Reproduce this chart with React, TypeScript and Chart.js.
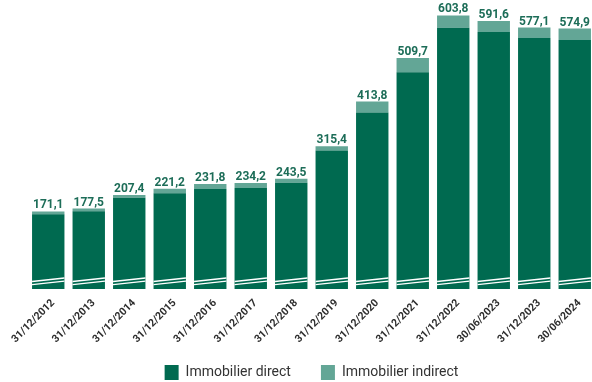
import React, { useEffect, useRef } from "react";
import { Chart, registerables } from "chart.js";

Chart.register(...registerables);

const categories = [
  "31/12/2012", "31/12/2013", "31/12/2014", "31/12/2015", "31/12/2016",
  "31/12/2017", "31/12/2018", "31/12/2019", "31/12/2020", "31/12/2021",
  "31/12/2022", "30/06/2023", "31/12/2023", "30/06/2024",
];
const directValues = [165.1, 171.5, 201.4, 211.2, 220.8, 223.2, 234.5, 305.9, 389.8, 478.7, 576.8, 567.6, 554.1, 549.9];
const indirectValues = [6.0, 6.0, 6.0, 10.0, 11.0, 11.0, 9.0, 9.5, 24.0, 31.0, 27.0, 24.0, 23.0, 25.0];
const totalLabels = ["171,1", "177,5", "207,4", "221,2", "231,8", "234,2", "243,5", "315,4", "413,8", "509,7", "603,8", "591,6", "577,1", "574,9"];
const seriesNames = ["Immobilier direct", "Immobilier indirect"];

const DARK = "#006a50";
const LIGHT = "#63a696";
const FONT = "Roboto, 'DejaVu Sans Condensed', sans-serif";

const overlayPlugin = {
  id: "overlay",
  afterLayout(chart: any) {
    // let the rotated tick labels draw below the axis box (no clipping)
    chart.scales.x.bottom = chart.height;
  },
  afterDatasetsDraw(chart: any) {
    const ctx = chart.ctx;
    const m0 = chart.getDatasetMeta(0);
    const m1 = chart.getDatasetMeta(1);
    ctx.save();
    // axis-break marks
    ctx.strokeStyle = "#ffffff";
    ctx.lineWidth = 1.3;
    m0.data.forEach((bar: any) => {
      const p = bar.getProps(["x", "base", "width"], true);
      const l = p.x - p.width / 2;
      const r = p.x + p.width / 2;
      ctx.beginPath();
      ctx.moveTo(l, p.base - 7.5);
      ctx.lineTo(r, p.base - 11);
      ctx.moveTo(l, p.base - 4.3);
      ctx.lineTo(r, p.base - 7.8);
      ctx.stroke();
    });
    // totals
    ctx.fillStyle = "#1d6d58";
    ctx.font = `bold 12px ${FONT}`;
    ctx.textAlign = "center";
    ctx.textBaseline = "alphabetic";
    m1.data.forEach((bar: any, i: number) => {
      const p = bar.getProps(["x", "y"], true);
      ctx.fillText(totalLabels[i], p.x, p.y - 3);
    });
    ctx.restore();
  },
};

export default function App() {
  const ref = useRef<HTMLCanvasElement>(null);
  useEffect(() => {
    document.body.style.margin = "0";
    const chart = new Chart(ref.current!, {
      type: "bar",
      data: {
        labels: categories,
        datasets: [
          { label: seriesNames[0], data: directValues, backgroundColor: DARK, barPercentage: 0.8, categoryPercentage: 1 },
          { label: seriesNames[1], data: indirectValues, backgroundColor: LIGHT, barPercentage: 0.8, categoryPercentage: 1 },
        ],
      },
      options: {
        animation: false,
        responsive: false,
        maintainAspectRatio: false,
        layout: { padding: { left: 28, right: 0, top: 0, bottom: -8 } },
        plugins: {
          tooltip: { enabled: false },
          legend: {
            position: "bottom",
            labels: {
              boxWidth: 14,
              boxHeight: 15,
              padding: 30,
              color: "#333333",
              font: { family: FONT, size: 14 },
            },
          },
        },
        scales: {
          x: {
            stacked: true,
            grid: { display: false, drawTicks: false },
            border: { display: false },
            ticks: {
              color: "#2e2e2e",
              font: { family: FONT, size: 10.5, weight: "bold" },
              minRotation: 45,
              maxRotation: 45,
              padding: 8,
              labelOffset: 5,
              autoSkip: false,
            },
            afterFit: (s: any) => {
              s.height = 46;
              s.paddingLeft = 0;
              s.paddingRight = 0;
            },
          },
          y: {
            stacked: true,
            display: false,
            min: 0,
            max: 638,
          },
        },
      },
      plugins: [overlayPlugin],
    });
    return () => chart.destroy();
  }, []);
  return (
    <div style={{ position: "fixed", left: 0, top: 0, width: 592, height: 382, overflow: "hidden" }}>
      <canvas ref={ref} width={595} height={382} style={{ width: 595, height: 382, display: "block" }} />
    </div>
  );
}
